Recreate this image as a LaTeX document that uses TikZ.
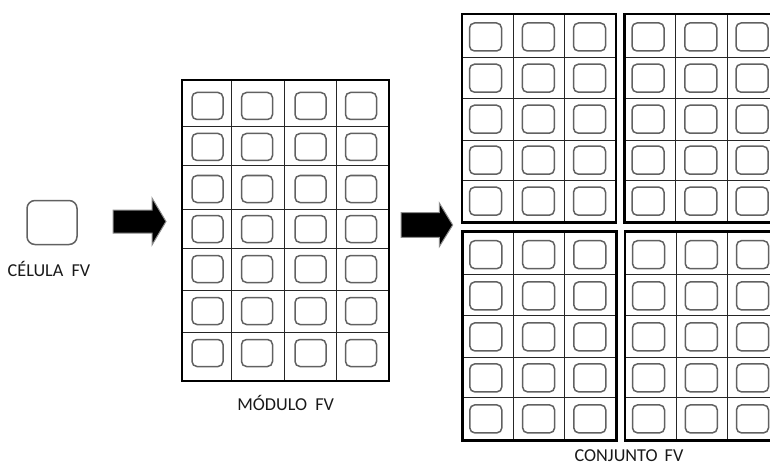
\documentclass[tikz,border=0pt]{standalone}
\usepackage{fontspec}
\setmainfont{Carlito}
\begin{document}
\begin{tikzpicture}[x=1pt,y=-1pt,
  frame/.style={draw=black,line width=2.8pt,inner sep=0pt},
  gridline/.style={draw=black!85,line width=0.9pt},
  cellbox/.style={draw=black!62,line width=1.5pt,rounded corners=5pt,
    minimum width=31pt,minimum height=27pt,inner sep=0pt},
  arraycell/.style={cellbox,minimum width=32pt,minimum height=28pt},
  bigcell/.style={cellbox,minimum width=50pt,minimum height=44pt,rounded corners=8pt},
  lbl/.style={font=\fontsize{18.2}{21}\selectfont,text=black!90,inner sep=0pt},
  bigarrow/.style={fill=black,draw=black!45,line width=1pt,line join=miter}]
\useasboundingbox (0,0) rectangle (770,465);
\clip (0,0) rectangle (770,465);

% single cell
\node[bigcell] (cell) at (52,222.5) {};
\node[lbl] (celltext) at (49,268.5) {CÉLULA\ \ FV};

% arrow 1
\draw[bigarrow] (113,210) -- (152,210) -- (152,198) -- (166,221.5) -- (152,245)
  -- (152,233) -- (113,233) -- cycle;
% arrow 2
\draw[bigarrow] (401,212.7) -- (439.3,212.7) -- (439.3,203) -- (452.7,225)
  -- (439.3,246.7) -- (439.3,237.3) -- (401,237.3) -- cycle;

% module
\foreach \x in {231,284,336} \draw[gridline] (\x,80) -- (\x,381);
\foreach \y in {126.7,165.7,209.3,248.3,290.7,332.7} \draw[gridline] (182,\y) -- (389,\y);
\node[frame,minimum width=207pt,minimum height=301pt] (module) at (285.5,230.5) {};
\foreach \y [count=\r] in {106,147,189,229,269,311,353}
  \foreach \x [count=\c] in {207.5,257,310.5,361}
    \node[cellbox] (m-\r-\c) at (\x,\y) {};
\node[lbl] (modtext) at (285.7,403) {MÓDULO\ \ FV};

% array of four panels
\foreach \L/\T/\p in {462/14/1,624.5/14/2,462.3/231.7/3,625/231.7/4}{
  \foreach \dx in {51,102.5} \draw[gridline] (\L+\dx,\T) -- (\L+\dx,\T+208.7);
  \foreach \dy in {43,84,126,166} \draw[gridline] (\L,\T+\dy) -- (\L+154,\T+\dy);
  \node[frame,minimum width=154pt,minimum height=208.7pt] (panel\p) at (\L+77,\T+104.35) {};
  \foreach \dy [count=\r] in {23,64.2,105.2,146.2,187.2}
    \foreach \dx [count=\c] in {23.5,76.3,127.5}
      \node[arraycell] (a\p-\r-\c) at (\L+\dx,\T+\dy) {};
}
\node[lbl] (arrtext) at (629,456) {CONJUNTO\,\ FV};
\end{tikzpicture}
\end{document}
